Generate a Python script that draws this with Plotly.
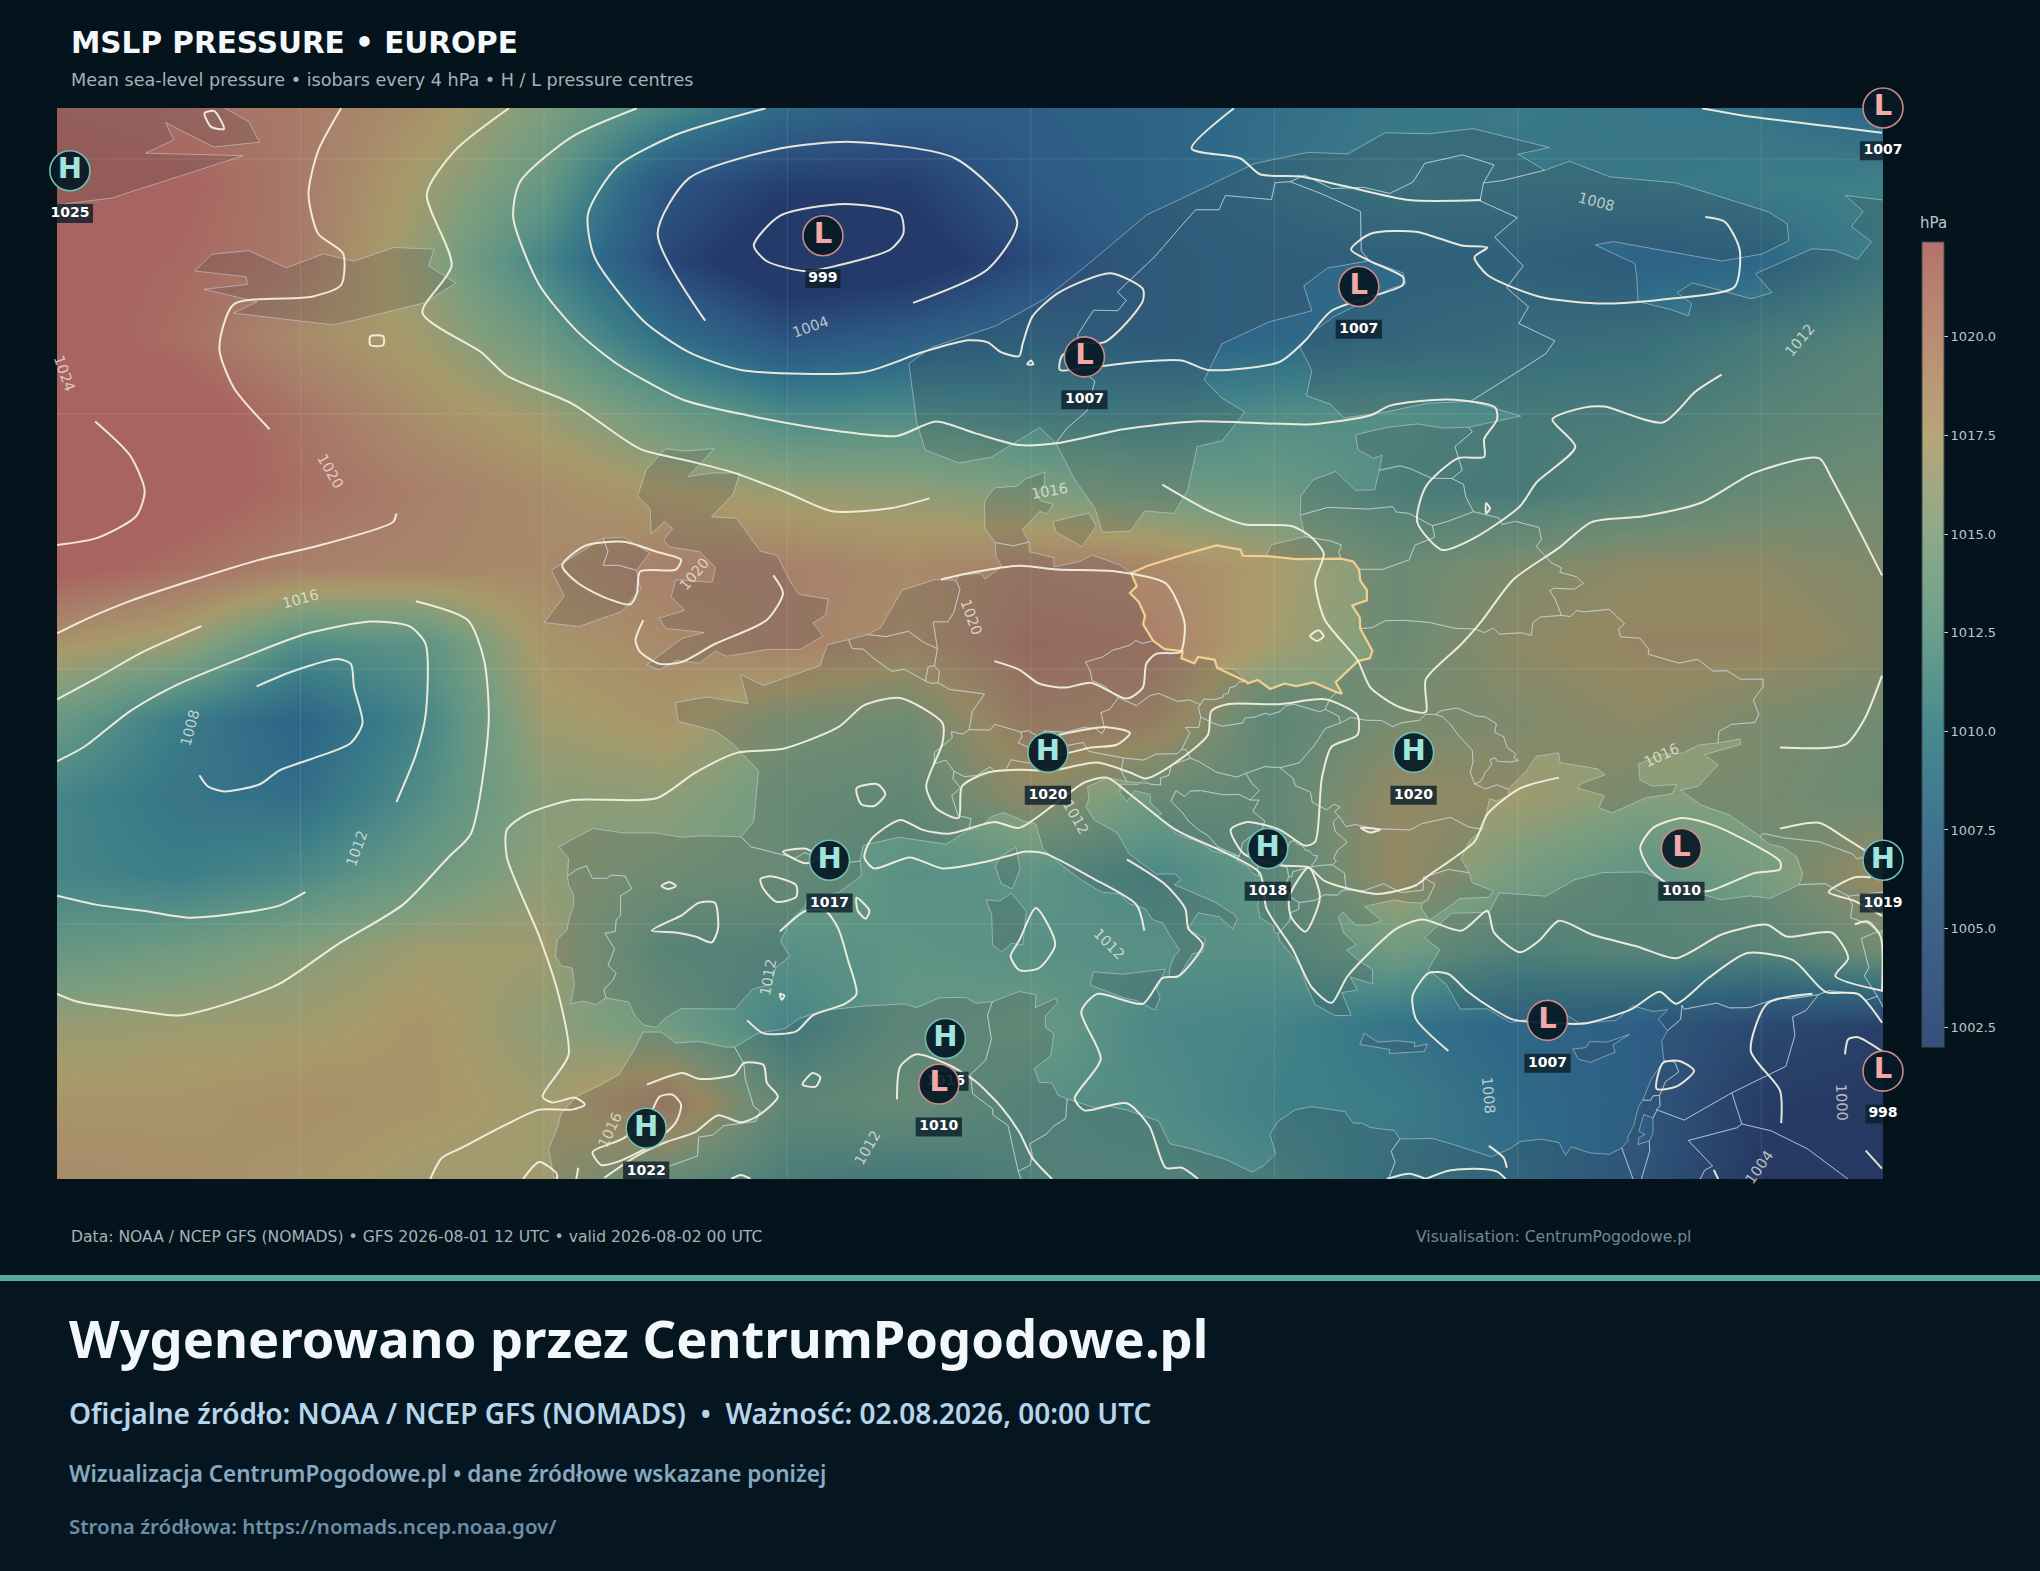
import plotly.graph_objects as go

# ---------------- pressure field (hPa) ----------------
LON_GRID = [-30, -25, -20, -15, -10, -5, 0, 5, 10, 15, 20, 25, 30, 35, 40, 45]
LAT_GRID = [72, 69, 66, 63, 60, 57, 54, 51, 48, 45, 42, 39, 36, 33, 30]
ROW_72 = [1022, 1021.5, 1020.5, 1018.5, 1015, 1011, 1007.2, 1006, 1006, 1006.5, 1008, 1009, 1009.2, 1008.8, 1008.5, 1007]
ROW_69 = [1023, 1022.5, 1020.5, 1017, 1013.2, 1005, 1002.5, 1002.5, 1005.5, 1006.5, 1008.3, 1009.5, 1009, 1009, 1009.5, 1010]
ROW_66 = [1022.5, 1022, 1020.5, 1016.2, 1010.5, 1003.5, 999.8, 1000.8, 1003.8, 1006.5, 1007, 1007.5, 1007.5, 1006.5, 1007, 1010]
ROW_63 = [1023, 1021.5, 1019, 1017, 1013.5, 1008, 1004.6, 1005.8, 1007.2, 1006.5, 1007, 1008, 1008.8, 1009.3, 1011, 1012.5]
ROW_60 = [1023, 1023.5, 1021, 1018.5, 1016.8, 1013.6, 1011, 1011.3, 1010.5, 1010.3, 1011.5, 1011.8, 1011, 1011.2, 1012.5, 1013.5]
ROW_57 = [1024.8, 1023.3, 1021.5, 1020, 1018.8, 1017.5, 1016.5, 1016.1, 1015, 1014, 1013.5, 1011.5, 1011, 1012.5, 1014, 1015]
ROW_54 = [1023, 1021.5, 1020, 1019.5, 1019, 1020, 1020, 1019, 1020, 1019.5, 1017.5, 1014.5, 1016, 1017, 1017, 1016]
ROW_51 = [1018, 1016.5, 1011.5, 1012.3, 1018, 1019, 1020, 1018.5, 1021, 1020.5, 1017, 1014.5, 1017, 1018, 1018, 1016.5]
ROW_48 = [1013.5, 1009.5, 1006.8, 1010.5, 1017, 1018, 1015.5, 1014.8, 1019.5, 1019, 1013, 1015.5, 1016, 1017, 1015.7, 1015]
ROW_45 = [1010.5, 1008.8, 1008, 1011.5, 1015.7, 1016, 1014, 1013.5, 1017, 1014, 1013.5, 1017.5, 1017, 1015.5, 1015.5, 1014.5]
ROW_42 = [1010.5, 1009.7, 1011, 1013.5, 1016, 1014.8, 1014, 1012, 1012.5, 1011, 1013, 1017.5, 1014.5, 1012.5, 1014.5, 1018]
ROW_39 = [1013, 1014, 1015.5, 1017, 1017, 1012.5, 1012, 1012.5, 1012, 1012, 1012, 1014, 1012, 1012.5, 1012.5, 1015]
ROW_36 = [1016.5, 1016.8, 1017, 1018, 1016, 1014, 1010.5, 1013, 1013.5, 1011, 1010.5, 1008.5, 1007, 1006, 1004, 1003]
ROW_33 = [1018, 1018, 1018.5, 1018, 1017, 1020, 1013, 1014, 1012, 1011.5, 1010, 1009.5, 1007.5, 1006, 1002.5, 1002]
ROW_30 = [1019, 1018.5, 1018, 1017, 1017, 1014, 1011.5, 1010.5, 1012, 1012, 1011, 1009, 1008, 1005.5, 1002, 1002]
PRESSURE = [ROW_72, ROW_69, ROW_66, ROW_63, ROW_60, ROW_57, ROW_54, ROW_51, ROW_48, ROW_45,
            ROW_42, ROW_39, ROW_36, ROW_33, ROW_30]

MAP_SCALE = [(1002, '#233a6b'), (1005, '#2d5683'), (1007.5, '#2f6a88'), (1010, '#3f8088'),
             (1012.5, '#5f9485'), (1015, '#7d9e7e'), (1017.5, '#a89a6b'), (1020, '#a8806a'), (1022.4, '#a86460')]
BAR_SCALE = [(1002, '#37507e'), (1002.5, '#38527f'), (1005, '#3d6288'), (1007.5, '#3e7390'), (1010, '#468a8e'),
             (1012.5, '#6a9f8c'), (1015, '#8daa88'), (1017.5, '#b7a578'), (1020, '#ba8d73'), (1022.4, '#b5726b')]
BAR_TICKS = [1002.5, 1005, 1007.5, 1010, 1012.5, 1015, 1017.5, 1020]
Z_MIN, Z_MAX = 1002, 1022.4

# ---------------- pressure centres ----------------
CENTRE_KIND = ['H', 'L', 'L', 'L', 'L', 'H', 'H', 'H', 'H', 'L', 'H', 'L', 'H', 'L', 'L', 'H']
CENTRE_LON = [-29.47, 1.46, 45, 23.47, 12.2, 10.7, 25.72, 19.73, 1.73, 36.72, 45, 31.22, 6.49, 6.22, 45, -5.8]
CENTRE_LAT = [69.54, 66.99, 72, 65.0, 62.24, 46.73, 46.73, 42.96, 42.5, 42.96, 42.5, 36.22, 35.51, 33.72, 34.23, 31.99]
CENTRE_HPA = [1025, 999, 1007, 1007, 1007, 1020, 1020, 1018, 1017, 1010, 1019, 1007, 1016, 1010, 998, 1022]

# ---------------- isobar labels ----------------
LABEL_HPA = [1024, 1020, 1016, 1004, 1008, 1012, 1016, 1020, 1020, 1008, 1012, 1012, 1016, 1012, 1012, 1016, 1012, 1008, 1000, 1004]
LABEL_LON = [-29.68, -18.78, -20.01, 0.93, 33.25, 41.58, 10.76, -3.82, 7.55, -24.55, -17.71, 11.83, 35.92, 13.22, -0.78, -7.3, 3.28, 28.81, 43.29, 39.93]
LABEL_LAT = [61.58, 57.76, 52.76, 63.42, 68.32, 62.91, 56.99, 53.72, 52.04, 47.7, 42.96, 44.18, 46.63, 39.23, 37.91, 31.94, 31.22, 33.27, 33.01, 30.46]
LABEL_ANGLE = [70, 60, -15, -20, 15, -50, -10, -50, 70, -75, -70, 60, -25, 45, -80, -65, -60, 85, 88, -55]

# ---------------- isobars, as (lon, lat) ----------------
ISO_A = [(-18.33,71.99),(-19.27,70.33),(-19.67,68.63),(-19.27,67.07),(-18.25,66.3),(-18.33,65.06),(-19.53,64.6),(-22.74,64.3),(-23.33,62.58),(-22.74,61.03),(-21.27,59.4)]
ISO_B = [(-11.44,71.99),(-13.66,70.33),(-14.81,68.63),(-13.79,65.83),(-14.99,63.97),(-12.59,62.43),(-11.52,61.5),(-8.85,60.41),(-6.05,58.63),(-4.05,58.16),(-2.18,57.69),(-0.04,56.92),(1.83,56.19),(4.23,56.3),(5.83,56.69)]
ISO_C = [(-6.18,71.99),(-8.85,70.87),(-10.99,69.09),(-11.26,67.7),(-10.19,65.06),(-8.59,63.2),(-6.99,61.96),(-4.32,60.57),(-1.65,59.95),(1.56,59.4),(4.5,59.14),(6.1,59.71),(7.7,59.25),(9.52,58.78),(11.13,58.86),(13.8,59.4),(16.74,59.71),(21.55,59.6),(23.95,59.95),(24.75,60.33),(27.15,60.57),(29.07,60.26),(29.15,59.79),(28.62,59.02),(28.62,58.32),(27.55,58.27),(26.22,57.15),(25.87,55.76),(26.89,54.67),(28.22,55.14),(30.09,56.38),(30.76,57.31),(32.36,58.71),(31.42,59.79),(32.76,60.26),(33.56,60.29),(35.96,59.67),(37.3,60.88),(38.37,61.54)]
ISO_D = [(-0.9,71.99),(-4.58,70.95),(-6.99,69.71),(-8.19,67.85),(-7.92,66.15),(-5.92,63.66),(-4.05,62.43),(-1.91,61.73),(3.16,61.65),(5.56,62.43),(7.43,62.89),(8.23,62.81),(8.77,62.43),(9.52,62.27),(9.66,62.74),(10.06,63.82),(11.13,64.75),(13.27,65.52),(14.6,64.9),(14.6,64.44),(13.94,63.59),(13.0,62.81),(12.07,62.77),(11.27,62.27),(11.19,61.73),(12.2,61.8),(14.34,62.04),(16.2,62.1),(17.27,61.73),(20.21,62.04),(21.28,62.89),(22.35,64.05),(25.28,65.06),(25.28,65.37),(23.95,65.99),(23.15,66.45),(23.95,67.07),(25.82,67.15),(27.69,66.61),(28.75,66.53),(28.22,66.15),(28.75,65.45),(30.89,64.6),(33.56,64.33),(36.23,64.52),(38.9,64.98),(39.11,66.45),(38.5,67.54),(37.7,67.73)]
ISO_D2 = [(18.34,71.99),(16.6,70.41),(18.61,70.02),(19.41,69.4),(21.01,69.32),(22.88,68.94),(25.55,68.39),(28.49,68.39)]
ISO_E = [(-3.38,63.66),(-5.33,67.07),(-4.05,69.24),(-0.31,70.41),(2.63,70.67),(6.9,70.02),(9.44,67.54),(8.23,65.68),(5.16,64.36)]
ISO_F = [(-1.38,66.61),(-0.31,67.77),(2.36,68.24),(4.63,67.85),(4.76,67.07),(4.23,66.45),(2.09,65.83),(0.76,65.6),(-0.84,65.99),(-1.38,66.61)]
ISO_G = [(37.56,71.99),(39.17,71.72),(44.96,71.03)]
ISO_H = [(-28.43,59.71),(-27.01,58.39),(-26.4,57.0),(-26.74,56.0),(-28.34,55.14),(-30,54.86)]
ISO_I = [(-16.06,56.1),(-16.2,55.76),(-19.0,54.9),(-21.67,54.29),(-24.61,53.43),(-27.01,52.66),(-28.88,51.92),(-30,51.4)]
ISO_J = [(-30,48.81),(-28.34,49.66),(-26.47,50.67),(-24.07,51.68)]
ISO_J2 = [(-15.26,52.66),(-13.13,51.92),(-12.46,50.36),(-12.27,47.88),(-13.0,43.54),(-13.93,42.61),(-15.8,40.75),(-18.47,39.2),(-20.87,37.65),(-23.27,36.8),(-25.01,36.41),(-27.01,36.64),(-29.15,36.95),(-30,37.26)]
ISO_K = [(-30,46.38),(-28.88,46.95),(-27.01,48.34),(-25.14,49.35),(-22.2,50.51),(-19.8,51.37),(-17.13,51.86),(-15.53,51.68),(-14.86,50.98),(-14.86,48.19),(-15.26,46.64),(-16.06,44.78)]
ISO_K2 = [(-30,41.11),(-28.34,40.75),(-26.47,40.52),(-24.61,40.25),(-22.2,40.47),(-20.87,40.72),(-19.8,41.25)]
ISO_L = [(-21.8,49.32),(-20.34,49.9),(-18.47,50.39),(-17.93,50.2),(-17.8,49.27),(-17.45,47.88),(-17.93,47.1),(-19.53,46.48),(-20.87,46.02),(-21.67,45.48),(-23.14,45.2),(-23.81,45.4),(-24.15,45.83)]
ISO_M = [(-14.67,30.0),(-14.19,30.83),(-13.39,31.22),(-11.52,32.15),(-10.19,32.72),(-8.85,32.72),(-8.32,32.92),(-8.72,33.19),(-9.66,33.0),(-10.06,33.23),(-8.99,34.86),(-9.39,37.19),(-10.19,39.51),(-11.52,42.61),(-11.52,43.7),(-10.72,44.3),(-8.85,44.86),(-5.38,44.93),(-3.78,45.94),(-2.05,46.72),(-0.18,46.87),(2.09,47.72),(3.16,48.58),(4.63,48.86),(6.37,47.88),(6.37,47.1),(5.7,45.4),(6.1,44.55),(7.03,44.16),(7.17,45.4),(8.23,45.94),(9.52,46.05),(10.87,46.02),(12.73,46.33),(14.07,45.94),(14.74,45.71),(15.94,46.33),(17.27,47.41),(17.41,48.35),(18.07,48.62),(20.21,48.62),(22.08,48.81),(23.41,48.19),(23.41,47.41),(22.35,46.95),(21.95,45.71),(21.68,43.23),(21.28,43.07),(20.21,43.7),(18.88,44.0),(18.21,43.7),(18.74,42.76),(20.21,42.3),(21.41,42.22),(22.08,41.68),(24.21,41.18),(25.82,41.52),(26.35,41.91),(28.22,43.23),(28.75,44.31),(30.09,45.32),(31.69,45.74)]
ISO_M2 = [(40.77,46.92),(43.44,47.03),(44.24,48.04),(44.96,49.74)]
ISO_N = [(14.66,39.74),(14.34,40.75),(12.47,41.83),(10.6,42.76),(9.8,42.84),(8.23,42.46),(6.37,42.18),(5.03,42.61),(3.56,42.18),(3.16,42.61),(3.43,43.31),(4.63,44.08),(5.56,43.69),(6.63,43.54),(8.5,44.0),(9.52,43.77),(10.87,44.62),(12.2,45.55),(13.13,45.74),(14.07,45.09),(15.94,43.7),(18.07,42.76),(19.41,41.99),(19.68,40.6),(20.74,39.04),(21.55,37.5),(22.35,36.91),(23.01,37.96),(25.02,39.82),(26.08,40.18),(27.69,39.74),(28.75,40.52),(29.02,39.67),(30.09,38.89),(30.89,39.36),(31.69,40.13),(33.03,39.59),(34.9,39.12),(36.5,38.66),(38.37,39.59),(40.24,39.97),(41.04,39.51),(42.9,39.66),(43.57,38.66),(43.04,37.96),(45.04,37.37)]
ISO_ITALY = [(13.94,42.53),(15.54,41.53),(16.34,40.6),(16.47,39.82),(17.06,39.2),(16.07,37.96),(15.4,37.88),(14.6,36.87),(12.73,37.26),(12.07,36.56),(12.87,34.7),(11.8,33.16),(12.2,32.69),(13.94,32.97),(14.87,32.07),(15.54,30.44),(16.2,30.44),(16.87,30.0)]
ISO_SARDINIA = [(10.2,40.63),(11.0,39.2),(10.33,38.27),(9.53,38.19),(9.17,38.74),(9.52,39.35),(10.2,40.63)]
ISO_MED = [(-0.31,39.71),(0.76,40.52),(1.56,40.52),(2.09,39.82),(2.49,38.58),(2.84,37.26),(2.36,36.87),(1.03,36.41),(0.36,35.79),(-0.98,35.71),(-1.65,36.22)]
ISO_TUNIS = [(4.5,33.12),(4.63,34.4),(5.3,34.89),(6.63,34.47),(7.7,33.85),(8.77,32.84),(9.52,31.84),(10.06,30.83),(10.87,30.0)]
ISO_IB1 = [(-5.57,39.74),(-4.31,40.36),(-3.65,40.83),(-2.98,40.83),(-2.85,39.82),(-3.11,39.28),(-3.78,39.51),(-4.58,39.67),(-5.57,39.74)]
ISO_IB2 = [(-1.11,41.76),(-0.71,41.87),(0.36,41.52),(0.36,41.06),(-0.44,40.87),(-0.98,41.37),(-1.11,41.76)]
ISO_IB3 = [(-5.17,41.49),(-4.85,41.65),(-4.58,41.49),(-4.9,41.37),(-5.17,41.49)]
ISO_IB4 = [(2.84,41.03),(3.37,40.52),(3.21,40.21),(2.89,40.52),(2.84,41.03)]
ISO_IB5 = [(-0.18,42.84),(0.76,42.95),(1.29,42.61),(0.76,42.38),(-0.18,42.84)]
ISO_IB6 = [(2.84,45.32),(3.7,45.48),(4.02,45.09),(3.56,44.63),(3.03,44.7),(2.84,45.32)]
ISO_IB7 = [(-0.31,37.26),(-0.12,37.19),(-0.23,37.03),(-0.31,37.26)]
ISO_IB8 = [(0.62,33.7),(1.03,34.16),(1.35,34.0),(1.16,33.62),(0.62,33.7)]
ISO_ALG1 = [(-8.0,31.06),(-6.72,31.6),(-5.65,32.53),(-5.25,33.23),(-4.72,33.31),(-4.37,32.92),(-4.58,32.22),(-5.65,31.3),(-6.99,30.67),(-7.65,30.55),(-8.0,31.06)]
ISO_ALG2 = [(-5.78,33.7),(-4.31,34.16),(-3.65,33.93),(-2.18,34.09),(-1.78,34.55),(-0.98,34.47),(-0.84,33.77),(-0.39,33.23),(-1.24,32.46),(-1.91,32.22),(-2.85,32.5),(-3.78,31.84),(-4.98,31.45),(-6.18,30.91),(-7.52,30.05)]
ISO_B1 = [(-10.86,30),(-10.19,30.67),(-9.47,30.2),(-9.47,30)]
ISO_B2 = [(-8.59,30.44),(-8.67,30)]
ISO_B3 = [(-2.31,30),(-1.91,30.16),(-1.51,30)]
ISO_CENTRAL = [(6.31,53.51),(7.7,53.8),(9.52,54.05),(11.13,53.9),(13.54,53.82),(15.54,53.36),(16.29,51.92),(16.29,51.13),(16.15,50.67),(15.14,50.59),(14.74,50.2),(14.6,49.27),(13.94,48.84),(12.47,49.46),(11.4,49.27),(10.33,49.43),(9.53,49.97),(8.5,50.31)]
ISO_EAST = [(15.4,57.23),(17.27,56.22),(18.74,55.68),(20.74,55.6),(21.55,55.14),(22.03,54.52),(21.68,53.43),(22.08,51.92),(23.41,50.36),(23.95,49.27),(25.15,48.5),(26.22,48.31),(26.22,49.59),(27.69,50.98),(28.54,51.91),(29.82,53.51),(31.69,54.75),(33.03,55.76),(35.16,55.99),(37.56,56.53),(39.7,57.69),(42.37,58.27),(42.9,57.46),(44.1,55.29),(44.96,53.67)]
ISO_IRL = [(-9.25,54.06),(-8.32,54.83),(-6.72,54.99),(-5.38,54.6),(-4.37,54.29),(-4.58,53.9),(-6.05,53.82),(-6.18,52.97),(-6.45,52.54),(-7.52,52.81),(-8.59,53.36),(-9.25,54.06)]
ISO_UK = [(-0.58,53.67),(-0.18,52.97),(-0.85,51.92),(-2.98,50.98),(-4.32,50.28),(-5.25,50.2),(-6.05,50.67),(-6.24,51.13),(-5.92,51.91)]
ISO_S1 = [(-17.13,63.05),(-16.6,63.05),(-16.6,62.7),(-17.13,62.7),(-17.13,63.05)]
ISO_S2 = [(-23.94,71.8),(-23.54,71.88),(-23.14,71.18),(-23.67,71.26),(-23.94,71.8)]
ISO_S3 = [(28.7,56.5),(28.86,56.3),(28.7,56.1),(28.7,56.5)]
ISO_S4 = [(21.47,51.29),(21.81,51.52),(22.03,51.29),(21.76,51.1),(21.47,51.29)]
ISO_S5 = [(10.0,62.1),(10.1,61.95),(9.85,61.95),(10.0,62.1)]
ISO_S6 = [(23.55,43.77),(24.35,43.7),(23.95,43.59),(23.55,43.77)]
ISO_ALB = [(21.41,42.22),(21.87,41.06),(21.28,39.7),(20.69,40.28),(20.61,41.06),(21.41,42.22)]
ISO_ALPS = [(11.13,47.41),(13.13,47.72),(14.07,47.49),(13.53,47.03),(12.47,46.92),(11.13,46.64),(10.6,46.72)]
ISO_P = [(27.15,35.02),(25.82,36.27),(25.68,37.19),(26.35,38.08),(27.15,38.04),(27.95,37.34),(29.02,36.64),(29.82,36.25),(31.69,36.1),(32.76,36.1),(34.63,36.64),(35.83,37.34),(36.5,36.87),(37.83,37.88),(39.43,38.86),(41.3,38.58),(42.64,37.34),(43.97,37.26),(44.96,36.13)]
ISO_Q = [(42.1,37.26),(40.24,36.87),(39.57,35.02),(40.77,33.47),(40.82,32.19)]
ISO_R = [(43.44,34.89),(43.57,35.48),(43.97,35.56),(44.96,35.01)]
ISO_S = [(44.29,31.11),(44.96,30.41)]
ISO_T = [(35.7,33.54),(35.96,34.55),(36.63,34.63),(37.24,34.24),(36.5,33.62),(35.7,33.54)]
ISO_U = [(38.05,30.36),(38.23,30.0)]
ISO_V = [(24.62,30.0),(25.55,30.21),(26.22,30.0)]
ISO_W = [(26.22,30),(27.15,30.32),(28.22,30.4),(29.15,30.29),(29.5,30)]
ISO_X = [(28.81,31.3),(29.42,30.83),(29.55,30.44)]
ISO_BLACK = [(35.03,43.0),(35.56,43.77),(36.76,44.16),(38.1,43.85),(40.77,42.46),(40.77,42.14),(39.7,41.99),(37.83,41.29),(36.5,41.37),(35.43,42.14),(35.03,43.0)]
ISO_Y = [(40.77,43.74),(42.37,43.97),(43.44,43.38),(44.96,42.46)]
ISO_Z = [(44.96,40.32),(43.84,40.9),(42.77,41.25),(43.84,41.83),(44.51,41.83)]
ISO_AA = [(43.84,39.98),(44.37,40.1),(44.9,39.51),(44.96,37.42)]
ISOBARS = [ISO_A, ISO_B, ISO_C, ISO_D, ISO_D2, ISO_E, ISO_F, ISO_G, ISO_H, ISO_I, ISO_J, ISO_J2, ISO_K, ISO_K2, ISO_L,
           ISO_M, ISO_M2, ISO_N, ISO_ITALY, ISO_SARDINIA, ISO_MED, ISO_TUNIS, ISO_IB1, ISO_IB2, ISO_IB3, ISO_IB4, ISO_IB5,
           ISO_IB6, ISO_IB7, ISO_IB8, ISO_ALG1, ISO_ALG2, ISO_B1, ISO_B2, ISO_B3, ISO_CENTRAL, ISO_EAST, ISO_IRL, ISO_UK,
           ISO_S1, ISO_S2, ISO_S3, ISO_S4, ISO_S5, ISO_S6, ISO_ALB, ISO_ALPS, ISO_P, ISO_Q, ISO_R, ISO_S, ISO_T, ISO_U,
           ISO_V, ISO_W, ISO_X, ISO_BLACK, ISO_Y, ISO_Z, ISO_AA]

# ---------------- country outlines ----------------
GREENLAND = [(-30,68.2),(-27.75,68.47),(-22.35,70.13),(-26.36,70.23),(-25.2,70.75),(-25.54,71.43),(-23.56,70.47),(-21.68,70.66),(-22.13,71.47),(-23.3,72.1),(-30,72.5)]
ICELAND = [(-14.51,66.46),(-14.74,65.81),(-13.61,65.13),(-14.91,64.36),(-17.79,63.68),(-18.66,63.5),(-19.97,63.64),(-22.76,63.96),(-21.78,64.4),(-23.96,64.89),(-22.18,65.08),(-22.23,65.38),(-24.33,65.61),(-23.65,66.26),(-22.13,66.41),(-20.58,65.73),(-19.06,66.28),(-17.8,65.99),(-16.17,66.53),(-14.51,66.46)]
N_IRELAND = [(-5.66,54.55),(-6.2,53.87),(-6.95,54.07),(-7.57,54.06),(-7.37,54.6),(-7.57,55.13),(-6.73,55.17),(-5.66,54.55)]
BRITAIN = [(-3.01,58.64),(-4.07,57.55),(-3.06,57.69),(-1.96,57.68),(-2.22,56.87),(-3.12,55.97),(-2.09,55.91),(-2.01,55.8),(-1.11,54.62),(-0.43,54.46),(0.18,53.33),(0.47,52.93),(1.68,52.74),(1.56,52.1),(1.05,51.81),(1.45,51.29),(0.55,50.77),(-0.79,50.77),(-2.49,50.5),(-2.96,50.7),(-3.62,50.23),(-4.54,50.34),(-5.25,49.96),(-5.78,50.16),(-4.31,51.21),(-3.41,51.43),(-4.98,51.59),(-5.27,51.99),(-4.22,52.3),(-4.77,52.84),(-4.58,53.5),(-3.09,53.4),(-2.95,53.99),(-3.61,54.6),(-4.84,54.79),(-5.08,55.06),(-4.72,55.51),(-5.05,55.78),(-5.59,55.31),(-5.64,56.28),(-6.15,56.79),(-5.79,57.82),(-5.01,58.63),(-4.21,58.55),(-3.01,58.64)]
IRELAND = [(-6.2,53.87),(-6.03,53.15),(-6.79,52.26),(-8.56,51.67),(-9.98,51.82),(-9.17,52.86),(-9.69,53.88),(-8.33,54.66),(-7.57,55.13),(-7.37,54.6),(-7.57,54.06),(-6.95,54.07),(-6.2,53.87)]
NORWAY = [(28.17,71.19),(31.29,70.45),(30.01,70.19),(31.1,69.56),(29.4,69.16),(28.59,69.06),(29.02,69.77),(27.73,70.16),(26.18,69.83),(25.69,69.09),(24.74,68.65),(23.66,68.89),(22.36,68.84),(21.24,69.37),(20.65,69.11),(20.03,69.07),(19.88,68.41),(17.99,68.57),(17.73,68.01),(16.77,68.01),(16.11,67.3),(15.11,66.19),(13.56,64.79),(13.92,64.45),(13.57,64.05),(12.58,64.07),(11.93,63.13),(11.99,61.8),(12.63,61.29),(12.3,60.12),(11.47,59.43),(11.03,58.86),(10.36,59.47),(8.38,58.31),(7.05,58.08),(5.67,58.59),(5.31,59.66),(4.99,61.97),(5.91,62.61),(8.55,63.45),(10.53,64.49),(12.36,65.88),(14.76,67.81),(16.44,68.56),(19.18,69.82),(21.38,70.26),(23.02,70.2),(24.55,71.03),(26.37,70.99),(28.17,71.19)]
SWEDEN = [(22.18,65.72),(21.21,65.03),(21.54,64.05),(19.78,63.61),(17.85,62.75),(17.12,61.34),(17.83,60.64),(18.79,60.08),(17.87,58.95),(16.83,58.72),(16.45,57.04),(15.88,56.1),(14.67,56.2),(14.1,55.41),(12.94,55.36),(12.63,56.31),(11.79,57.44),(11.03,58.86),(11.47,59.43),(12.3,60.12),(12.63,61.29),(11.99,61.8),(11.93,63.13),(12.58,64.07),(13.57,64.05),(13.92,64.45),(13.56,64.79),(15.11,66.19),(16.11,67.3),(16.77,68.01),(17.73,68.01),(17.99,68.57),(19.88,68.41),(20.03,69.07),(20.65,69.11),(21.98,68.62),(23.54,67.94),(23.57,66.4),(23.9,66.01),(22.18,65.72)]
FINLAND = [(28.59,69.06),(28.45,68.36),(29.98,67.7),(29.05,66.94),(30.22,65.81),(29.54,64.95),(30.44,64.2),(30.04,63.55),(31.52,62.87),(31.14,62.36),(30.21,61.78),(28.07,60.5),(26.26,60.42),(24.5,60.06),(22.87,59.85),(22.29,60.39),(21.32,60.72),(21.54,61.71),(21.06,62.61),(21.54,63.19),(22.44,63.82),(24.73,64.9),(25.4,65.11),(25.29,65.53),(23.9,66.01),(23.57,66.4),(23.54,67.94),(21.98,68.62),(20.65,69.11),(21.24,69.37),(22.36,68.84),(23.66,68.89),(24.74,68.65),(25.69,69.09),(26.18,69.83),(27.73,70.16),(29.02,69.77),(28.59,69.06)]
DENMARK_E = [(12.69,55.61),(12.09,54.8),(11.04,55.36),(10.9,55.78),(12.37,56.11),(12.69,55.61)]
DENMARK_W = [(10.91,56.46),(10.67,56.08),(10.37,56.19),(9.65,55.47),(9.92,54.98),(9.28,54.83),(8.53,54.96),(8.12,55.52),(8.09,56.54),(8.26,56.81),(8.54,57.11),(9.42,57.17),(9.78,57.45),(10.58,57.73),(10.55,57.22),(10.25,56.89),(10.37,56.61),(10.91,56.46)]
FRANCE = [(2.51,51.15),(2.66,50.8),(3.12,50.78),(3.59,50.38),(4.29,49.91),(4.8,49.99),(5.67,49.53),(5.9,49.44),(6.19,49.46),(6.66,49.2),(8.1,49.02),(7.59,48.33),(7.47,47.62),(7.19,47.45),(6.74,47.54),(6.77,47.29),(6.04,46.73),(6.02,46.27),(6.5,46.43),(6.84,45.99),(6.8,45.71),(7.1,45.33),(6.75,45.03),(7.01,44.25),(7.55,44.13),(7.44,43.69),(6.53,43.13),(4.56,43.4),(3.1,43.08),(2.99,42.47),(1.83,42.34),(0.7,42.8),(0.34,42.58),(-1.5,43.03),(-1.9,43.42),(-1.38,44.02),(-1.19,46.01),(-2.23,47.06),(-2.96,47.57),(-4.49,47.95),(-4.59,48.68),(-3.3,48.9),(-1.62,48.64),(-1.93,49.78),(-0.99,49.35),(1.34,50.13),(1.64,50.95),(2.51,51.15)]
CORSICA = [(8.75,42.63),(9.39,43.01),(9.56,42.15),(9.23,41.38),(8.78,41.58),(8.54,42.26),(8.75,42.63)]
BELGIUM = [(3.31,51.35),(4.05,51.27),(4.97,51.48),(5.61,51.04),(6.16,50.8),(6.04,50.13),(5.78,50.09),(5.67,49.53),(4.8,49.99),(4.29,49.91),(3.59,50.38),(3.12,50.78),(2.66,50.8),(2.51,51.15),(3.31,51.35)]
NETHERLANDS = [(6.07,53.51),(6.91,53.48),(7.09,53.14),(6.84,52.23),(6.59,51.85),(5.99,51.85),(6.16,50.8),(5.61,51.04),(4.97,51.48),(4.05,51.27),(3.31,51.35),(3.83,51.62),(4.71,53.09),(6.07,53.51)]
LUXEMBOURG = [(6.04,50.13),(6.24,49.9),(6.19,49.46),(5.9,49.44),(5.67,49.53),(5.78,50.09),(6.04,50.13)]
GERMANY = [(9.92,54.98),(9.94,54.6),(10.95,54.36),(10.94,54.01),(11.96,54.2),(12.52,54.47),(13.65,54.08),(14.12,53.76),(14.35,53.25),(14.07,52.98),(14.44,52.62),(14.69,52.09),(14.61,51.75),(15.02,51.11),(14.57,51.0),(14.31,51.12),(14.06,50.93),(13.34,50.73),(12.97,50.48),(12.24,50.27),(12.42,49.97),(12.52,49.55),(13.03,49.31),(13.6,48.88),(13.24,48.42),(12.88,48.29),(13.03,47.64),(12.93,47.47),(12.62,47.67),(12.14,47.7),(11.43,47.52),(10.54,47.57),(10.4,47.3),(9.9,47.58),(9.59,47.53),(8.52,47.83),(8.32,47.61),(7.47,47.62),(7.59,48.33),(8.1,49.02),(6.66,49.2),(6.19,49.46),(6.24,49.9),(6.04,50.13),(6.16,50.8),(5.99,51.85),(6.59,51.85),(6.84,52.23),(7.09,53.14),(6.91,53.48),(7.1,53.69),(7.94,53.75),(8.12,53.53),(8.8,54.02),(8.57,54.4),(8.53,54.96),(9.28,54.83),(9.92,54.98)]
SWITZERLAND = [(9.59,47.53),(9.63,47.35),(9.48,47.1),(9.93,46.92),(10.44,46.89),(10.36,46.48),(9.92,46.31),(9.18,46.44),(8.97,46.04),(8.49,46.01),(8.32,46.16),(7.76,45.82),(7.27,45.78),(6.84,45.99),(6.5,46.43),(6.02,46.27),(6.04,46.73),(6.77,47.29),(6.74,47.54),(7.19,47.45),(7.47,47.62),(8.32,47.61),(8.52,47.83),(9.59,47.53)]
AUSTRIA = [(16.98,48.12),(16.9,47.71),(16.34,47.71),(16.53,47.5),(16.2,46.85),(16.01,46.68),(15.14,46.66),(14.63,46.43),(13.81,46.51),(12.38,46.77),(12.15,47.12),(11.16,46.94),(11.05,46.75),(10.44,46.89),(9.93,46.92),(9.48,47.1),(9.63,47.35),(9.59,47.53),(9.9,47.58),(10.4,47.3),(10.54,47.57),(11.43,47.52),(12.14,47.7),(12.62,47.67),(12.93,47.47),(13.03,47.64),(12.88,48.29),(13.24,48.42),(13.6,48.88),(14.34,48.56),(14.9,48.96),(15.25,49.04),(16.03,48.73),(16.5,48.79),(16.96,48.6),(16.88,48.47),(16.98,48.12)]
CZECHIA = [(16.96,48.6),(16.5,48.79),(16.03,48.73),(15.25,49.04),(14.9,48.96),(14.34,48.56),(13.6,48.88),(13.03,49.31),(12.52,49.55),(12.42,49.97),(12.24,50.27),(12.97,50.48),(13.34,50.73),(14.06,50.93),(14.31,51.12),(14.57,51.0),(15.02,51.11),(15.49,50.78),(16.24,50.7),(16.18,50.42),(16.72,50.22),(16.87,50.47),(17.55,50.36),(17.65,50.05),(18.39,49.99),(18.85,49.5),(18.55,49.5),(18.4,49.32),(18.17,49.27),(18.1,49.04),(17.91,49.0),(17.89,48.9),(17.55,48.8),(17.1,48.82),(16.96,48.6)]
SLOVAKIA = [(18.85,49.5),(18.91,49.44),(19.32,49.57),(19.83,49.22),(20.42,49.43),(20.89,49.33),(21.61,49.47),(22.56,49.09),(22.28,48.83),(22.09,48.42),(21.87,48.32),(20.8,48.62),(20.47,48.56),(20.24,48.33),(19.77,48.2),(19.66,48.27),(19.17,48.11),(18.78,48.08),(18.7,47.88),(17.86,47.76),(17.49,47.87),(16.98,48.12),(16.88,48.47),(16.96,48.6),(17.1,48.82),(17.55,48.8),(17.89,48.9),(17.91,49.0),(18.1,49.04),(18.17,49.27),(18.4,49.32),(18.55,49.5),(18.85,49.5)]
HUNGARY = [(16.2,46.85),(16.53,47.5),(16.34,47.71),(16.9,47.71),(16.98,48.12),(17.49,47.87),(17.86,47.76),(18.7,47.88),(18.78,48.08),(19.17,48.11),(19.66,48.27),(19.77,48.2),(20.24,48.33),(20.47,48.56),(20.8,48.62),(21.87,48.32),(22.09,48.42),(22.64,48.15),(22.71,47.88),(22.1,47.67),(21.63,46.99),(21.02,46.32),(20.22,46.13),(19.6,46.17),(18.83,45.91),(18.46,45.76),(17.63,45.95),(16.88,46.38),(16.56,46.5),(16.37,46.84),(16.2,46.85)]
SLOVENIA = [(13.81,46.51),(14.63,46.43),(15.14,46.66),(16.01,46.68),(16.2,46.85),(16.37,46.84),(16.56,46.5),(15.77,46.24),(15.67,45.83),(15.32,45.73),(15.33,45.45),(13.94,45.59),(13.7,46.02),(13.81,46.51)]
CROATIA = [(18.83,45.91),(19.07,45.52),(19.39,45.24),(19.01,44.86),(18.55,45.08),(17.86,45.07),(17.0,45.23),(16.53,45.21),(16.32,45.0),(15.96,45.23),(15.75,44.82),(16.24,44.35),(16.46,44.04),(16.92,43.67),(17.3,43.45),(17.67,43.03),(18.56,42.65),(17.51,42.85),(16.93,43.21),(16.02,43.51),(15.17,44.24),(15.38,44.32),(14.92,44.74),(14.9,45.08),(14.26,45.23),(13.95,44.8),(13.66,45.14),(13.68,45.48),(14.41,45.47),(14.6,45.63),(14.94,45.47),(15.33,45.45),(15.32,45.73),(15.67,45.83),(15.77,46.24),(16.56,46.5),(16.88,46.38),(17.63,45.95),(18.46,45.76),(18.83,45.91)]
BOSNIA = [(19.01,44.86),(19.37,44.86),(19.12,44.42),(19.6,44.04),(19.45,43.57),(19.22,43.52),(19.03,43.43),(18.71,43.2),(18.56,42.65),(17.67,43.03),(17.3,43.45),(16.92,43.67),(16.46,44.04),(16.24,44.35),(15.75,44.82),(15.96,45.23),(16.32,45.0),(16.53,45.21),(17.0,45.23),(17.86,45.07),(18.55,45.08),(19.01,44.86)]
SERBIA = [(20.87,45.42),(21.48,45.18),(21.56,44.77),(22.15,44.48),(22.46,44.7),(22.71,44.58),(22.47,44.41),(22.66,44.23),(22.41,44.01),(22.5,43.64),(22.99,43.21),(22.6,42.9),(22.44,42.58),(22.55,42.46),(22.38,42.32),(21.92,42.3),(21.58,42.25),(21.54,42.32),(21.66,42.44),(21.78,42.68),(21.63,42.68),(21.44,42.86),(21.27,42.91),(21.14,43.07),(20.96,43.13),(20.81,43.27),(20.64,43.22),(20.5,42.88),(20.26,42.81),(20.34,42.9),(19.96,43.11),(19.63,43.21),(19.48,43.35),(19.22,43.52),(19.45,43.57),(19.6,44.04),(19.12,44.42),(19.37,44.86),(19.01,44.86),(19.39,45.24),(19.07,45.52),(18.83,45.91),(19.6,46.17),(20.22,46.13),(20.76,45.73),(20.87,45.42)]
MONTENEGRO = [(19.8,42.5),(19.74,42.69),(19.3,42.2),(19.37,41.88),(19.16,41.96),(18.88,42.28),(18.45,42.48),(18.56,42.65),(18.71,43.2),(19.03,43.43),(19.22,43.52),(19.48,43.35),(19.63,43.21),(19.96,43.11),(20.34,42.9),(20.26,42.81),(20.07,42.59),(19.8,42.5)]
KOSOVO = [(20.76,42.05),(20.72,41.85),(20.59,41.86),(20.52,42.22),(20.28,42.32),(20.07,42.59),(20.26,42.81),(20.5,42.88),(20.64,43.22),(20.81,43.27),(20.96,43.13),(21.14,43.07),(21.27,42.91),(21.44,42.86),(21.63,42.68),(21.78,42.68),(21.66,42.44),(21.54,42.32),(21.58,42.25),(21.35,42.21),(20.76,42.05)]
ALBANIA = [(20.59,41.86),(20.46,41.52),(20.61,41.09),(21.02,40.84),(21.0,40.58),(20.67,40.44),(20.62,40.11),(20.15,39.62),(19.98,39.69),(19.96,39.92),(19.41,40.25),(19.32,40.73),(19.4,41.41),(19.54,41.72),(19.37,41.88),(19.3,42.2),(19.74,42.69),(19.8,42.5),(20.07,42.59),(20.28,42.32),(20.52,42.22),(20.59,41.86)]
MACEDONIA = [(20.59,41.86),(20.72,41.85),(20.76,42.05),(21.35,42.21),(21.58,42.25),(21.92,42.3),(22.38,42.32),(22.88,42.0),(22.95,41.34),(22.76,41.3),(22.6,41.13),(22.06,41.15),(21.67,40.93),(21.02,40.84),(20.61,41.09),(20.46,41.52),(20.59,41.86)]
CRETE = [(23.7,35.71),(24.25,35.37),(25.03,35.42),(25.77,35.35),(25.75,35.18),(26.29,35.3),(26.16,35.0),(24.72,34.92),(24.74,35.08),(23.51,35.28),(23.7,35.71)]
GREECE = [(26.6,41.56),(26.29,40.94),(26.06,40.82),(25.45,40.85),(24.93,40.95),(23.71,40.69),(24.41,40.12),(23.9,39.96),(23.34,39.96),(22.81,40.48),(22.63,40.26),(22.85,39.66),(23.35,39.19),(22.97,38.97),(23.53,38.51),(24.03,38.22),(24.04,37.66),(23.12,37.92),(23.41,37.41),(22.77,37.31),(23.15,36.42),(22.49,36.41),(21.67,36.84),(21.3,37.64),(21.12,38.31),(20.73,38.77),(20.22,39.34),(20.15,39.62),(20.62,40.11),(20.67,40.44),(21.0,40.58),(21.02,40.84),(21.67,40.93),(22.06,41.15),(22.6,41.13),(22.76,41.3),(22.95,41.34),(23.69,41.31),(24.49,41.58),(25.2,41.23),(26.11,41.33),(26.12,41.83),(26.6,41.56)]
BULGARIA = [(22.66,44.23),(22.94,43.82),(23.33,43.9),(24.1,43.74),(25.57,43.69),(26.07,43.94),(27.24,44.18),(27.97,43.81),(28.56,43.71),(28.04,43.29),(27.67,42.58),(28.0,42.01),(27.14,42.14),(26.12,41.83),(26.11,41.33),(25.2,41.23),(24.49,41.58),(23.69,41.31),(22.95,41.34),(22.88,42.0),(22.38,42.32),(22.55,42.46),(22.44,42.58),(22.6,42.9),(22.99,43.21),(22.5,43.64),(22.41,44.01),(22.66,44.23)]
ROMANIA = [(22.71,47.88),(23.14,48.1),(23.76,47.99),(24.4,47.98),(24.87,47.74),(25.21,47.89),(25.95,47.99),(26.2,48.22),(26.62,48.22),(26.92,48.12),(27.23,47.83),(27.55,47.41),(28.13,46.81),(28.16,46.37),(28.05,45.94),(28.23,45.49),(28.68,45.3),(29.15,45.46),(29.6,45.29),(29.63,45.04),(29.14,44.82),(28.84,44.91),(28.56,43.71),(27.97,43.81),(27.24,44.18),(26.07,43.94),(25.57,43.69),(24.1,43.74),(23.33,43.9),(22.94,43.82),(22.66,44.23),(22.47,44.41),(22.71,44.58),(22.46,44.7),(22.15,44.48),(21.56,44.77),(21.48,45.18),(20.87,45.42),(20.76,45.73),(20.22,46.13),(21.02,46.32),(21.63,46.99),(22.1,47.67),(22.71,47.88)]
MOLDOVA = [(26.62,48.22),(26.86,48.37),(27.52,48.47),(28.26,48.16),(28.67,48.12),(29.12,47.85),(29.05,47.51),(29.42,47.35),(29.56,46.93),(29.91,46.67),(29.84,46.53),(30.02,46.42),(29.76,46.35),(29.17,46.38),(29.07,46.52),(28.86,46.44),(28.93,46.26),(28.66,45.94),(28.49,45.6),(28.23,45.49),(28.05,45.94),(28.16,46.37),(28.13,46.81),(27.55,47.41),(27.23,47.83),(26.92,48.12),(26.62,48.22)]
UKRAINE = [(31.79,52.1),(32.16,52.06),(32.41,52.29),(32.72,52.24),(33.75,52.34),(34.39,51.77),(34.14,51.57),(34.22,51.26),(35.02,51.21),(35.38,50.77),(35.36,50.58),(36.63,50.23),(37.39,50.38),(38.01,49.92),(38.59,49.93),(39.15,49.6),(40.07,49.6),(40.08,49.31),(39.67,48.78),(39.9,48.23),(39.74,47.9),(38.77,47.83),(38.26,47.55),(38.22,47.1),(37.43,47.02),(36.76,46.7),(35.82,46.65),(34.96,46.27),(35.02,45.65),(35.51,45.41),(36.53,45.47),(36.33,45.11),(35.24,44.94),(33.88,44.36),(33.33,44.56),(33.55,45.03),(32.45,45.33),(32.63,45.52),(33.59,45.85),(33.3,46.08),(31.74,46.33),(31.68,46.71),(30.75,46.58),(30.38,46.03),(29.6,45.29),(29.15,45.46),(28.68,45.3),(28.23,45.49),(28.49,45.6),(28.66,45.94),(28.93,46.26),(28.86,46.44),(29.07,46.52),(29.17,46.38),(29.76,46.35),(30.02,46.42),(29.84,46.53),(29.91,46.67),(29.56,46.93),(29.42,47.35),(29.05,47.51),(29.12,47.85),(28.67,48.12),(28.26,48.16),(27.52,48.47),(26.86,48.37),(26.62,48.22),(26.2,48.22),(25.95,47.99),(25.21,47.89),(24.87,47.74),(24.4,47.98),(23.76,47.99),(23.14,48.1),(22.71,47.88),(22.64,48.15),(22.09,48.42),(22.28,48.83),(22.56,49.09),(22.78,49.03),(22.52,49.48),(23.43,50.31),(23.92,50.42),(24.03,50.71),(23.53,51.58),(24.01,51.62),(24.55,51.89),(25.33,51.91),(26.34,51.83),(27.45,51.59),(28.24,51.57),(28.62,51.43),(28.99,51.6),(29.25,51.37),(30.16,51.42),(30.56,51.32),(30.62,51.82),(30.93,52.04),(31.79,52.1)]
BELARUS = [(23.48,53.91),(24.45,53.91),(25.54,54.28),(25.77,54.85),(26.59,55.17),(26.49,55.62),(27.1,55.78),(28.18,56.17),(29.23,55.92),(29.37,55.67),(29.9,55.79),(30.87,55.55),(30.97,55.08),(30.76,54.81),(31.38,54.16),(31.79,53.97),(31.73,53.79),(32.41,53.62),(32.69,53.35),(32.3,53.13),(31.5,53.17),(31.31,53.07),(31.54,52.74),(31.79,52.1),(30.93,52.04),(30.62,51.82),(30.56,51.32),(30.16,51.42),(29.25,51.37),(28.99,51.6),(28.62,51.43),(28.24,51.57),(27.45,51.59),(26.34,51.83),(25.33,51.91),(24.55,51.89),(24.01,51.62),(23.53,51.58),(23.51,52.02),(23.2,52.49),(23.8,52.69),(23.8,53.09),(23.53,53.47),(23.48,53.91)]
LITHUANIA = [(22.73,54.33),(22.65,54.58),(22.76,54.86),(22.32,55.02),(21.27,55.19),(21.06,56.03),(22.2,56.34),(23.88,56.27),(24.86,56.37),(25.0,56.16),(25.53,56.1),(26.49,55.62),(26.59,55.17),(25.77,54.85),(25.54,54.28),(24.45,53.91),(23.48,53.91),(23.24,54.22),(22.73,54.33)]
LATVIA = [(21.06,56.03),(21.09,56.78),(21.58,57.41),(22.52,57.75),(23.32,57.01),(24.12,57.03),(24.31,57.79),(25.16,57.97),(25.6,57.85),(26.46,57.48),(27.29,57.47),(27.77,57.24),(27.86,56.76),(28.18,56.17),(27.1,55.78),(26.49,55.62),(25.53,56.1),(25.0,56.16),(24.86,56.37),(23.88,56.27),(22.2,56.34),(21.06,56.03)]
ESTONIA = [(24.31,57.79),(24.43,58.38),(24.06,58.26),(23.43,58.61),(23.34,59.19),(24.6,59.47),(25.86,59.61),(26.95,59.45),(27.98,59.48),(28.13,59.3),(27.42,58.72),(27.72,57.79),(27.29,57.47),(26.46,57.48),(25.6,57.85),(25.16,57.97),(24.31,57.79)]
KALININGRAD = [(20.89,54.31),(19.66,54.43),(19.89,54.87),(21.27,55.19),(22.32,55.02),(22.76,54.86),(22.65,54.58),(22.73,54.33),(20.89,54.31)]
RUSSIA = [(31.1,69.56),(32.13,69.91),(33.78,69.3),(36.51,69.06),(40.29,67.93),(41.06,67.46),(41.13,66.79),(40.02,66.27),(38.38,66.0),(33.92,66.76),(33.18,66.63),(34.81,65.9),(34.88,65.44),(34.94,64.41),(36.23,64.11),(37.01,63.85),(37.14,64.33),(36.54,64.76),(37.18,65.14),(39.59,64.52),(40.44,64.76),(39.76,65.5),(42.09,66.48),(43.02,66.42),(43.95,66.07),(44.53,66.76),(43.7,67.35),(44.19,67.95),(43.45,68.57),(46.25,68.25),(47,68),(47,42),(45.47,42.5),(44.54,42.71),(43.93,42.55),(43.76,42.74),(42.39,43.22),(40.92,43.38),(40.08,43.55),(39.96,43.43),(38.68,44.28),(37.54,44.66),(36.68,45.24),(37.4,45.4),(38.23,46.24),(37.67,46.64),(39.15,47.04),(39.12,47.26),(38.22,47.1),(38.26,47.55),(38.77,47.83),(39.74,47.9),(39.9,48.23),(39.67,48.78),(40.08,49.31),(40.07,49.6),(39.15,49.6),(38.59,49.93),(38.01,49.92),(37.39,50.38),(36.63,50.23),(35.36,50.58),(35.38,50.77),(35.02,51.21),(34.22,51.26),(34.14,51.57),(34.39,51.77),(33.75,52.34),(32.72,52.24),(32.41,52.29),(32.16,52.06),(31.79,52.1),(31.54,52.74),(31.31,53.07),(31.5,53.17),(32.3,53.13),(32.69,53.35),(32.41,53.62),(31.73,53.79),(31.79,53.97),(31.38,54.16),(30.76,54.81),(30.97,55.08),(30.87,55.55),(29.9,55.79),(29.37,55.67),(29.23,55.92),(28.18,56.17),(27.86,56.76),(27.77,57.24),(27.29,57.47),(27.72,57.79),(27.42,58.72),(28.13,59.3),(27.98,59.48),(30.12,59.92),(28.07,60.5),(30.21,61.78),(31.14,62.36),(31.52,62.87),(30.04,63.55),(30.44,64.2),(29.54,64.95),(30.22,65.81),(29.05,66.94),(29.98,67.7),(28.45,68.36),(28.59,69.06),(29.4,69.16),(31.1,69.56)]
SPAIN = [(-9.03,41.88),(-8.98,42.59),(-9.39,43.03),(-7.98,43.75),(-6.75,43.57),(-5.41,43.57),(-4.35,43.4),(-3.52,43.46),(-1.9,43.42),(-1.5,43.03),(0.34,42.58),(0.7,42.8),(1.83,42.34),(2.99,42.47),(3.04,41.89),(2.09,41.23),(0.81,41.01),(0.72,40.68),(0.11,40.12),(-0.28,39.31),(0.11,38.74),(-0.47,38.29),(-0.68,37.64),(-1.44,37.44),(-2.15,36.67),(-3.42,36.66),(-4.37,36.68),(-5.0,36.32),(-5.38,35.95),(-5.87,36.03),(-6.24,36.37),(-6.52,36.94),(-7.45,37.1),(-7.54,37.43),(-7.17,37.8),(-7.03,38.08),(-7.37,38.37),(-7.1,39.03),(-7.5,39.63),(-7.07,39.71),(-7.03,40.18),(-6.86,40.33),(-6.85,41.11),(-6.39,41.38),(-6.67,41.88),(-7.25,41.92),(-7.42,41.79),(-8.01,41.79),(-8.26,42.28),(-8.67,42.13),(-9.03,41.88)]
PORTUGAL = [(-9.03,41.88),(-8.67,42.13),(-8.26,42.28),(-8.01,41.79),(-7.42,41.79),(-7.25,41.92),(-6.67,41.88),(-6.39,41.38),(-6.85,41.11),(-6.86,40.33),(-7.03,40.18),(-7.07,39.71),(-7.5,39.63),(-7.1,39.03),(-7.37,38.37),(-7.03,38.08),(-7.17,37.8),(-7.54,37.43),(-7.45,37.1),(-7.86,36.84),(-8.38,36.98),(-8.9,36.87),(-8.75,37.65),(-8.84,38.27),(-9.29,38.36),(-9.53,38.74),(-9.45,39.39),(-9.05,39.76),(-8.98,40.16),(-8.77,40.76),(-8.79,41.18),(-8.99,41.54),(-9.03,41.88)]
SICILY = [(15.52,38.23),(15.16,37.44),(15.31,37.13),(15.1,36.62),(14.34,37.0),(13.83,37.1),(12.43,37.61),(12.57,38.13),(13.74,38.03),(14.76,38.14),(15.52,38.23)]
SARDINIA = [(9.21,41.21),(9.81,40.5),(9.67,39.18),(9.21,39.24),(8.81,38.91),(8.43,39.17),(8.39,40.38),(8.16,40.95),(8.71,40.9),(9.21,41.21)]
ITALY = [(12.38,46.77),(13.81,46.51),(13.7,46.02),(13.94,45.59),(13.14,45.74),(12.33,45.38),(12.38,44.89),(12.26,44.6),(12.59,44.09),(13.53,43.59),(14.03,42.76),(15.14,41.96),(15.93,41.96),(16.17,41.74),(15.89,41.54),(16.79,41.18),(17.52,40.88),(18.38,40.36),(18.48,40.17),(18.29,39.81),(17.74,40.28),(16.87,40.44),(16.45,39.8),(17.17,39.42),(17.05,38.9),(16.64,38.84),(16.1,37.99),(15.68,37.91),(15.69,38.21),(15.89,38.75),(16.11,38.96),(15.72,39.54),(15.41,40.05),(15.0,40.17),(14.7,40.6),(14.06,40.79),(13.63,41.19),(12.89,41.25),(12.11,41.7),(11.19,42.36),(10.51,42.93),(10.2,43.92),(9.7,44.04),(8.89,44.37),(8.43,44.23),(7.85,43.77),(7.44,43.69),(7.55,44.13),(7.01,44.25),(6.75,45.03),(7.1,45.33),(6.8,45.71),(6.84,45.99),(7.27,45.78),(7.76,45.82),(8.32,46.16),(8.49,46.01),(8.97,46.04),(9.18,46.44),(9.92,46.31),(10.36,46.48),(10.44,46.89),(11.05,46.75),(11.16,46.94),(12.15,47.12),(12.38,46.77)]
TURKEY = [(36.91,41.34),(38.35,40.95),(39.51,41.1),(40.37,41.01),(41.55,41.54),(42.62,41.58),(43.58,41.09),(43.75,40.74),(43.66,40.25),(44.4,40.01),(44.79,39.71),(44.11,39.43),(44.42,38.28),(44.23,37.97),(44.77,37.17),(44.29,37.0),(43.94,37.26),(42.78,37.39),(42.35,37.23),(41.21,37.07),(40.67,37.09),(39.52,36.72),(38.7,36.71),(38.17,36.9),(36.83,36.66),(36.74,36.82),(36.69,36.26),(36.42,36.04),(36.15,35.82),(35.78,36.27),(36.16,36.65),(35.55,36.57),(34.71,36.8),(34.03,36.22),(32.51,36.11),(31.7,36.64),(30.62,36.68),(30.39,36.26),(29.7,36.14),(28.73,36.68),(27.64,36.66),(27.05,37.65),(26.32,38.21),(26.8,38.99),(26.17,39.46),(27.28,40.42),(28.82,40.46),(29.24,41.22),(31.15,41.09),(32.35,41.74),(33.51,42.02),(35.17,42.04),(36.91,41.34)]
THRACE = [(26.12,41.83),(27.14,42.14),(28.0,42.01),(28.12,41.62),(28.99,41.3),(28.81,41.05),(27.62,41.0),(27.19,40.69),(26.36,40.15),(26.04,40.62),(26.06,40.82),(26.29,40.94),(26.6,41.56),(26.12,41.83)]
CYPRUS = [(33.97,35.06),(34.0,34.98),(32.98,34.57),(32.49,34.7),(32.26,35.1),(32.73,35.14),(32.8,35.15),(32.95,35.39),(33.67,35.37),(34.58,35.67),(33.9,35.25),(33.97,35.06)]
GEORGIA = [(41.55,41.54),(41.7,41.96),(41.45,42.65),(40.88,43.01),(40.32,43.13),(39.96,43.43),(40.08,43.55),(40.92,43.38),(42.39,43.22),(43.76,42.74),(43.93,42.55),(44.54,42.71),(45.47,42.5),(45.78,42.09),(46.4,41.86),(46.15,41.72),(46.64,41.18),(46.5,41.06),(45.96,41.12),(45.22,41.41),(44.97,41.25),(43.58,41.09),(42.62,41.58),(41.55,41.54)]
ARMENIA = [(43.58,41.09),(44.97,41.25),(45.18,40.99),(45.56,40.81),(45.36,40.56),(45.89,40.22),(45.61,39.9),(46.03,39.63),(46.48,39.46),(46.51,38.77),(46.14,38.74),(45.74,39.32),(45.74,39.47),(45.3,39.47),(45.0,39.74),(44.79,39.71),(44.4,40.01),(43.66,40.25),(43.75,40.74),(43.58,41.09)]
IRAN = [(44.77,37.17),(44.23,37.97),(44.42,38.28),(44.11,39.43),(44.79,39.71),(46,39),(46,36),(45.42,35.98),(44.77,37.17)]
IRAQ = [(45.42,35.98),(46.08,35.68),(46.15,35.09),(45.65,34.75),(45.42,33.97),(46.11,33.02),(47.33,32.47),(47.85,31.71),(47.69,30.98),(48.0,30.99),(48.01,30.45),(47.3,30.06),(46.57,29.1),(44.71,29.18),(41.89,31.19),(40.4,31.89),(39.2,32.16),(38.79,33.38),(41.01,34.42),(41.38,35.63),(41.29,36.36),(41.84,36.61),(42.35,37.23),(42.78,37.39),(43.94,37.26),(44.29,37.0),(44.77,37.17),(45.42,35.98)]
SYRIA = [(38.79,33.38),(36.83,32.31),(35.72,32.71),(35.7,32.72),(35.84,32.87),(35.82,33.28),(36.07,33.82),(36.61,34.2),(36.45,34.59),(36.0,34.64),(35.91,35.41),(36.15,35.82),(36.42,36.04),(36.69,36.26),(36.74,36.82),(36.83,36.66),(38.17,36.9),(38.7,36.71),(39.52,36.72),(40.67,37.09),(41.21,37.07),(42.35,37.23),(41.84,36.61),(41.29,36.36),(41.38,35.63),(41.01,34.42),(38.79,33.38)]
LEBANON = [(35.82,33.28),(35.55,33.26),(35.46,33.09),(35.13,33.09),(35.48,33.91),(35.98,34.61),(36.0,34.64),(36.45,34.59),(36.61,34.2),(36.07,33.82),(35.82,33.28)]
ISRAEL = [(35.72,32.71),(35.55,32.39),(35.18,32.53),(34.97,31.87),(35.23,31.75),(34.97,31.62),(34.93,31.35),(35.4,31.49),(35.42,31.1),(34.92,29.5),(34.27,31.22),(34.56,31.55),(34.49,31.61),(34.75,32.07),(34.96,32.83),(35.1,33.08),(35.13,33.09),(35.46,33.09),(35.55,33.26),(35.82,33.28),(35.84,32.87),(35.7,32.72),(35.72,32.71)]
JORDAN = [(35.55,32.39),(35.72,32.71),(36.83,32.31),(38.79,33.38),(39.2,32.16),(39.0,32.01),(37.0,31.51),(38.0,30.51),(37.67,30.34),(37.5,30.0),(36.74,29.87),(36.5,29.51),(36.07,29.2),(34.96,29.36),(34.92,29.5),(35.42,31.1),(35.4,31.49),(35.55,31.78),(35.55,32.39)]
SAUDI = [(36.5,29.5),(37.5,30.0),(37.67,30.34),(38.0,30.51),(37.0,31.51),(39.0,32.01),(39.2,32.16),(40.4,31.89),(41.89,31.19),(44.71,29.18),(36.5,29.5)]
EGYPT = [(34.92,29.5),(34.64,29.1),(32.42,29.85),(32.32,29.76),(32.73,28.71),(25,28),(25,29.24),(24.7,30.04),(24.96,30.66),(24.8,31.09),(25.16,31.57),(26.5,31.59),(27.46,31.32),(28.45,31.03),(28.91,30.87),(29.68,31.19),(30.1,31.47),(30.98,31.56),(31.69,31.43),(31.96,30.93),(32.19,31.26),(32.99,31.02),(33.77,30.97),(34.27,31.22),(34.92,29.5)]
LIBYA = [(25,28),(9.6,28),(9.68,28.14),(9.86,28.96),(9.81,29.42),(9.48,30.31),(9.97,30.54),(10.06,30.96),(9.95,31.38),(10.64,31.76),(10.94,32.08),(11.43,32.37),(11.49,33.14),(12.66,32.79),(13.08,32.88),(13.92,32.71),(15.25,32.27),(15.71,31.38),(16.61,31.18),(18.02,30.76),(19.09,30.27),(19.57,30.53),(20.05,30.99),(19.82,31.75),(20.13,32.24),(20.85,32.71),(21.54,32.84),(22.9,32.64),(23.24,32.19),(23.61,32.19),(23.93,32.02),(24.92,31.9),(25.16,31.57),(24.8,31.09),(24.96,30.66),(24.7,30.04),(25,29.24),(25,28)]
TUNISIA = [(9.48,30.31),(9.06,32.1),(8.44,32.51),(8.43,32.75),(7.61,33.34),(7.52,34.1),(8.14,34.66),(8.38,35.48),(8.22,36.43),(8.42,36.95),(9.51,37.35),(10.21,37.23),(10.18,36.72),(11.03,37.09),(11.1,36.9),(10.6,36.41),(10.59,35.95),(10.94,35.7),(10.81,34.83),(10.15,34.33),(10.34,33.79),(10.86,33.77),(11.11,33.29),(11.49,33.14),(11.43,32.37),(10.94,32.08),(10.64,31.76),(9.95,31.38),(10.06,30.96),(9.97,30.54),(9.48,30.31)]
ALGERIA = [(9.6,28),(-8.67,28),(-8.67,28.84),(-7.06,29.58),(-6.06,29.73),(-5.24,30.0),(-4.86,30.5),(-3.69,30.9),(-3.65,31.64),(-3.07,31.72),(-2.62,32.09),(-1.31,32.26),(-1.12,32.65),(-1.39,32.86),(-1.73,33.92),(-1.79,34.53),(-2.17,35.17),(-1.21,35.71),(-0.13,35.89),(0.5,36.3),(1.47,36.61),(3.16,36.78),(4.82,36.87),(5.32,36.72),(6.26,37.11),(7.33,37.12),(7.74,36.89),(8.42,36.95),(8.22,36.43),(8.38,35.48),(8.14,34.66),(7.52,34.1),(7.61,33.34),(8.43,32.75),(8.44,32.51),(9.06,32.1),(9.48,30.31),(9.81,29.42),(9.86,28.96),(9.68,28.14),(9.6,28)]
MOROCCO = [(-5.19,35.76),(-4.59,35.33),(-3.64,35.4),(-2.6,35.18),(-2.17,35.17),(-1.79,34.53),(-1.73,33.92),(-1.39,32.86),(-1.12,32.65),(-1.31,32.26),(-2.62,32.09),(-3.07,31.72),(-3.65,31.64),(-3.69,30.9),(-4.86,30.5),(-5.24,30.0),(-6.06,29.73),(-7.06,29.58),(-8.67,28.84),(-8.67,28),(-11.69,28.15),(-10.9,28.83),(-10.4,29.1),(-9.56,29.93),(-9.81,31.18),(-9.43,32.04),(-9.3,32.56),(-8.66,33.24),(-7.65,33.7),(-6.91,34.11),(-6.24,35.15),(-5.93,35.76),(-5.19,35.76)]
POLAND = [(15.02,51.11),(14.61,51.75),(14.69,52.09),(14.44,52.62),(14.07,52.98),(14.35,53.25),(14.12,53.76),(14.8,54.05),(16.36,54.51),(17.62,54.85),(18.62,54.68),(18.7,54.44),(19.66,54.43),(20.89,54.31),(22.73,54.33),(23.24,54.22),(23.48,53.91),(23.53,53.47),(23.8,53.09),(23.8,52.69),(23.2,52.49),(23.51,52.02),(23.53,51.58),(24.03,50.71),(23.92,50.42),(23.43,50.31),(22.52,49.48),(22.78,49.03),(22.56,49.09),(21.61,49.47),(20.89,49.33),(20.42,49.43),(19.83,49.22),(19.32,49.57),(18.91,49.44),(18.85,49.5),(17.65,50.05),(17.55,50.36),(16.87,50.47),(16.72,50.22),(16.18,50.42),(16.24,50.7),(15.49,50.78),(15.02,51.11)]
LAND = [GREENLAND, ICELAND, N_IRELAND, BRITAIN, IRELAND, NORWAY, SWEDEN, FINLAND, DENMARK_E, DENMARK_W, FRANCE, CORSICA,
        BELGIUM, NETHERLANDS, LUXEMBOURG, GERMANY, SWITZERLAND, AUSTRIA, CZECHIA, SLOVAKIA, HUNGARY, SLOVENIA, CROATIA,
        BOSNIA, SERBIA, MONTENEGRO, KOSOVO, ALBANIA, MACEDONIA, CRETE, GREECE, BULGARIA, ROMANIA, MOLDOVA, UKRAINE,
        BELARUS, LITHUANIA, LATVIA, ESTONIA, KALININGRAD, RUSSIA, SPAIN, PORTUGAL, SICILY, SARDINIA, ITALY, TURKEY, THRACE,
        CYPRUS, GEORGIA, ARMENIA, IRAN, IRAQ, SYRIA, LEBANON, ISRAEL, JORDAN, SAUDI, EGYPT, LIBYA, TUNISIA, ALGERIA, MOROCCO]

GRID_LONS = [-20, -10, 0, 10, 20, 30, 40]
GRID_LATS = [40, 50, 60, 70]
LON_MIN, LON_MAX, LAT_MIN, LAT_MAX = -30, 45, 30, 72

W, H = 2040, 1571
BG = '#05131c'
FONT_UI = 'DejaVu Sans'
FONT_BAND = 'Noto Sans'


def joined(paths):
    xs, ys = [], []
    for path in paths:
        xs += [p[0] for p in path] + [None]
        ys += [p[1] for p in path] + [None]
    return xs, ys


fig = go.Figure()
zspan = Z_MAX - Z_MIN
fig.add_trace(go.Heatmap(x=LON_GRID, y=LAT_GRID, z=PRESSURE, zmin=Z_MIN, zmax=Z_MAX, zsmooth='best', showscale=False,
                         colorscale=[[(v - Z_MIN) / zspan, c] for v, c in MAP_SCALE], hoverinfo='skip'))
lx, ly = joined(LAND)
fig.add_trace(go.Scatter(x=lx, y=ly, mode='lines', fill='toself', fillcolor='rgba(55,55,62,0.17)',
                         line=dict(color='rgba(205,222,232,0.5)', width=1), hoverinfo='skip'))
gx, gy = [], []
for v in GRID_LONS:
    gx += [v, v, None]; gy += [LAT_MIN, LAT_MAX, None]
for v in GRID_LATS:
    gx += [LON_MIN, LON_MAX, None]; gy += [v, v, None]
fig.add_trace(go.Scatter(x=gx, y=gy, mode='lines', line=dict(color='rgba(255,255,255,0.11)', width=1), hoverinfo='skip'))
px_, py_ = joined([POLAND])
fig.add_trace(go.Scatter(x=px_, y=py_, mode='lines', fill='toself', fillcolor='rgba(245,205,130,0.06)',
                         line=dict(color='#f3cf90', width=2.2), hoverinfo='skip'))
for path in ISOBARS:
    fig.add_trace(go.Scatter(x=[p[0] for p in path], y=[p[1] for p in path], mode='lines', hoverinfo='skip',
                             line=dict(color='rgba(246,242,228,0.92)', width=2, shape='spline', smoothing=0.7)))

LABEL_DROP = 1.68
for kind, lon, lat, hpa in zip(CENTRE_KIND, CENTRE_LON, CENTRE_LAT, CENTRE_HPA):
    half = 0.95 if hpa >= 1000 else 0.72
    fig.add_trace(go.Scatter(x=[lon - half, lon + half], y=[lat - LABEL_DROP] * 2, mode='lines', hoverinfo='skip',
                             line=dict(color='rgba(14,32,44,0.82)', width=19)))
    edge, letter = ('#6fbfb5', '#a0e6dc') if kind == 'H' else ('#c98a8a', '#f4a8a8')
    fig.add_trace(go.Scatter(x=[lon], y=[lat], mode='markers+text', text=[kind], textposition='middle center',
                             cliponaxis=False, hoverinfo='skip',
                             marker=dict(size=40, color='rgba(8,26,38,0.93)', line=dict(color=edge, width=1.6)),
                             textfont=dict(family=FONT_UI, size=29, color=letter, weight='bold')))
    fig.add_trace(go.Scatter(x=[lon], y=[lat - LABEL_DROP], mode='text', text=[str(hpa)], textposition='middle center',
                             cliponaxis=False, hoverinfo='skip',
                             textfont=dict(family=FONT_UI, size=14, color='#ffffff', weight='bold')))

fig.add_trace(go.Scatter(x=[LON_GRID[0]], y=[LAT_GRID[0]], mode='markers', hoverinfo='skip',
                         marker=dict(size=0.1, color=[Z_MIN], cmin=Z_MIN, cmax=Z_MAX, showscale=True,
                                     colorscale=[[(v - Z_MIN) / zspan, c] for v, c in BAR_SCALE],
                                     colorbar=dict(x=1922 / W, xanchor='left', y=1 - 1047 / H, yanchor='bottom',
                                                   len=805 / H, lenmode='fraction', thickness=22, xpad=0, ypad=0,
                                                   outlinecolor='#3c4c57', outlinewidth=1, borderwidth=0,
                                                   tickmode='array', tickvals=BAR_TICKS, tickformat='.1f',
                                                   tickprefix='\u00a0\u00a0',
                                                   ticks='outside', ticklen=4, tickwidth=1, tickcolor='#c8d4da',
                                                   tickfont=dict(family=FONT_UI, size=13, color='#b9c7ce')))))

annotations = []
for hpa, lon, lat, ang in zip(LABEL_HPA, LABEL_LON, LABEL_LAT, LABEL_ANGLE):
    annotations.append(dict(x=lon, y=lat, xref='x', yref='y', text=str(hpa), textangle=ang, showarrow=False,
                            font=dict(family=FONT_UI, size=14.5, color='rgba(240,240,228,0.74)')))


def page_text(text, x, y, size, color, family=FONT_UI, weight='normal'):
    annotations.append(dict(x=x / W, y=1 - y / H, xref='paper', yref='paper', xanchor='left', yanchor='middle', text=text,
                            showarrow=False, font=dict(family=family, size=size, color=color, weight=weight)))


page_text('MSLP PRESSURE • EUROPE', 69, 43, 29.5, '#f4f8fa', weight='bold')
page_text('Mean sea-level pressure • isobars every 4 hPa • H / L pressure centres', 69, 80, 17.6, '#a3b3bb')
page_text('Data: NOAA / NCEP GFS (NOMADS) • GFS 2026-08-01 12 UTC • valid 2026-08-02 00 UTC', 69, 1237, 15.6, '#a3b3bb')
page_text('Visualisation: CentrumPogodowe.pl', 1414, 1237, 15.6, '#6f8999')
page_text('hPa', 1918, 223, 15, '#b9c7ce')
page_text('Wygenerowano przez CentrumPogodowe.pl', 67, 1337, 52.4, '#f2f7fb', FONT_BAND, 'bold')
page_text('Oficjalne źródło: NOAA / NCEP GFS (NOMADS)  •  Ważność: 02.08.2026, 00:00 UTC', 67, 1413, 28, '#b7d5ea', FONT_BAND, 600)
page_text('Wizualizacja CentrumPogodowe.pl • dane źródłowe wskazane poniżej', 67, 1473, 22.5, '#88a9bf', FONT_BAND, 600)
page_text('Strona źródłowa: https://nomads.ncep.noaa.gov/', 67, 1526, 20.5, '#6d8fa5', FONT_BAND, 600)

shapes = [
    dict(type='rect', xref='paper', yref='paper', x0=0, x1=1, y0=0, y1=1 - 1281 / H, fillcolor='#061621', line_width=0, layer='below'),
    dict(type='rect', xref='paper', yref='paper', x0=0, x1=1, y0=1 - 1281 / H, y1=1 - 1275 / H, fillcolor='#5aa89c', line_width=0, layer='below'),
]

fig.update_layout(
    width=W, height=H, autosize=False, margin=dict(l=0, r=0, t=0, b=0), paper_bgcolor=BG, plot_bgcolor=BG,
    showlegend=False, annotations=annotations, shapes=shapes,
    xaxis=dict(domain=[57 / W, 1883 / W], range=[LON_MIN, LON_MAX], visible=False, fixedrange=True),
    yaxis=dict(domain=[1 - 1179 / H, 1 - 108 / H], range=[LAT_MIN, LAT_MAX], visible=False, fixedrange=True),
)
fig.write_html('out.html', config={'displayModeBar': False},
               post_script="document.body.style.margin='0';document.body.style.background='%s';" % BG)
